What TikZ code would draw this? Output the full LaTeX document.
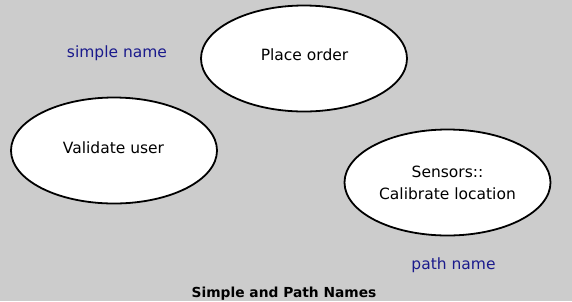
\documentclass[tikz,border=0pt]{standalone}
\usepackage{fontspec}
\setmainfont{DejaVu Sans}
\usetikzlibrary{shapes.geometric}
\definecolor{bggray}{RGB}{204,204,204}
\definecolor{namblue}{RGB}{26,26,140}
\tikzset{
  usecase/.style={ellipse, draw=black, fill=white, line width=1.8pt, minimum width=206pt, minimum height=106pt, inner sep=0pt},
  uctext/.style={anchor=base, font=\fontsize{15.5}{19}\selectfont, text=black, inner sep=0pt},
  nametext/.style={anchor=base, font=\fontsize{15.5}{19}\selectfont, text=namblue, inner sep=0pt},
  captext/.style={anchor=base, font=\fontsize{13.8}{16}\selectfont\bfseries, text=black, inner sep=0pt}
}
\begin{document}
\begin{tikzpicture}[x=1pt,y=-1pt]
\fill[bggray] (0,0) rectangle (572,301);
\useasboundingbox (0,0) rectangle (572,301);
\node[usecase] (place) at (304,58.5) {};
\node[usecase] (validate) at (114,150.5) {};
\node[usecase] (sensors) at (447.5,182.5) {};
\node[uctext] (placet) at (304.5,60) {Place order};
\node[uctext] (validatet) at (113.5,153) {Validate user};
\node[uctext] (sensorst1) at (447.5,177) {Sensors::};
\node[uctext] (sensorst2) at (447.5,199) {Calibrate location};
\node[nametext] (simple) at (117,57.5) {simple name};
\node[nametext] (path) at (453.5,269) {path name};
\node[captext] (caption) at (284,297.5) {Simple and Path Names};
\end{tikzpicture}
\end{document}
